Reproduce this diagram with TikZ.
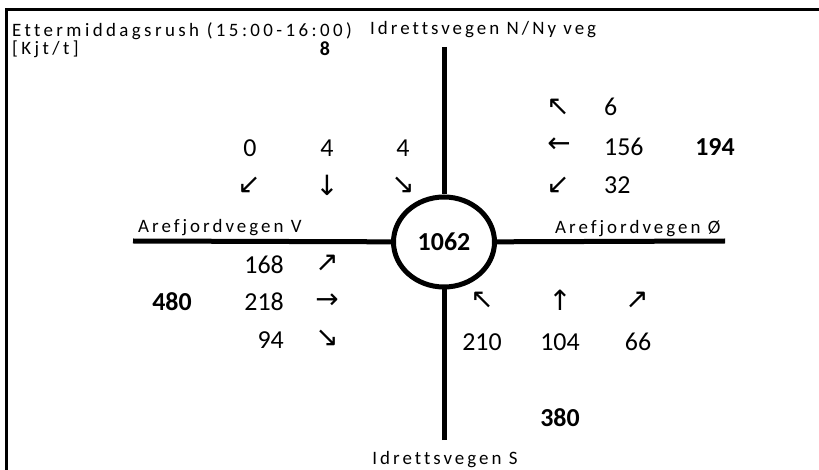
\documentclass[tikz,border=0pt]{standalone}
\usepackage{fontspec}
\setmainfont{Carlito}[Ligatures=CommonOff]
\newfontfamily\arrowfont{DejaVu Sans}
\usetikzlibrary{shapes.geometric}

\tikzstyle{road} = [draw,line width=5bp,-]
\tikzstyle{hub} = [ellipse,draw,line width=5bp,minimum width=101bp,minimum height=90bp,inner sep=0pt,font=\fontsize{26}{30}\selectfont\bfseries]
\tikzstyle{flow} = [inner sep=0pt,font=\fontsize{26}{30}\selectfont]
\tikzstyle{total} = [inner sep=0pt,font=\fontsize{26}{30}\selectfont\bfseries]
\tikzstyle{turn} = [inner sep=0pt,font=\arrowfont\fontsize{28}{32}\selectfont]
\tikzstyle{roadname} = [inner sep=0pt,anchor=base west,font=\fontsize{19}{22}\selectfont\addfontfeature{LetterSpace=16}]
\tikzstyle{heading} = [inner sep=0pt,anchor=base west,font=\fontsize{19}{22}\selectfont\addfontfeature{LetterSpace=18}]

\begin{document}
\begin{tikzpicture}[x=1bp,y=-1bp]
			\useasboundingbox (0,0) rectangle (819,470);
			% frame
			\draw[line width=3bp] (819,10) -- (6,10) -- (6,470);
			% roundabout and road ends
			\node[hub] (hub) at (444,242) {1062};
			\coordinate (nend) at (444,47);
			\coordinate (send) at (444,440);
			\coordinate (wend) at (133,241);
			\coordinate (eend) at (725,241);
			\foreach \arm in {nend,send,wend,eend}
				\path[road] (\arm) -- (hub);
			% headings and road names
			\node[heading] (title) at (12,37) {Ettermiddagsrush (15:00-16:00)};
			\node[heading] (unit) at (12,55) {[Kjt/t]};
			\node[roadname] (north) at (370,35) {Idrettsvegen N/Ny veg};
			\node[roadname] (west) at (138,233) {Arefjordvegen V};
			\node[roadname] (east) at (555,234) {Arefjordvegen Ø};
			\node[roadname,anchor=base] (south) at (445,464) {Idrettsvegen S};
			% north approach
			\node[total,font=\fontsize{20}{24}\selectfont\bfseries] (ntot) at (325,49) {8};
			\node[flow] (nr) at (250,148) {0};
			\node[flow] (nt) at (327,148) {4};
			\node[flow] (nl) at (403,148) {4};
			\node[turn] (nra) at (249,185) {↙};
			\node[turn] (nta) at (327,185) {↓};
			\node[turn] (nla) at (403,185) {↘};
			% east approach
			\node[total] (etot) at (715,147) {194};
			\node[turn] (era) at (558,107) {↖};
			\node[turn] (eta) at (559,145) {←};
			\node[turn] (ela) at (558,185) {↙};
			\node[flow,anchor=west] (er) at (604,107) {6};
			\node[flow,anchor=west] (et) at (604,147) {156};
			\node[flow,anchor=west] (el) at (604,185) {32};
			% west approach
			\node[total] (wtot) at (172,302) {480};
			\node[flow,anchor=east] (wl) at (284,265) {168};
			\node[flow,anchor=east] (wt) at (284,302) {218};
			\node[flow,anchor=east] (wr) at (284,340) {94};
			\node[turn] (wla) at (327,263) {↗};
			\node[turn] (wta) at (327,301) {→};
			\node[turn] (wra) at (327,338) {↘};
			% south approach
			\node[total] (stot) at (560,418) {380};
			\node[turn] (sla) at (482,300) {↖};
			\node[turn] (sta) at (560,300) {↑};
			\node[turn] (sra) at (637,300) {↗};
			\node[flow] (sl) at (482,342) {210};
			\node[flow] (st) at (560,342) {104};
			\node[flow] (sr) at (638,342) {66};
\end{tikzpicture}
\end{document}
